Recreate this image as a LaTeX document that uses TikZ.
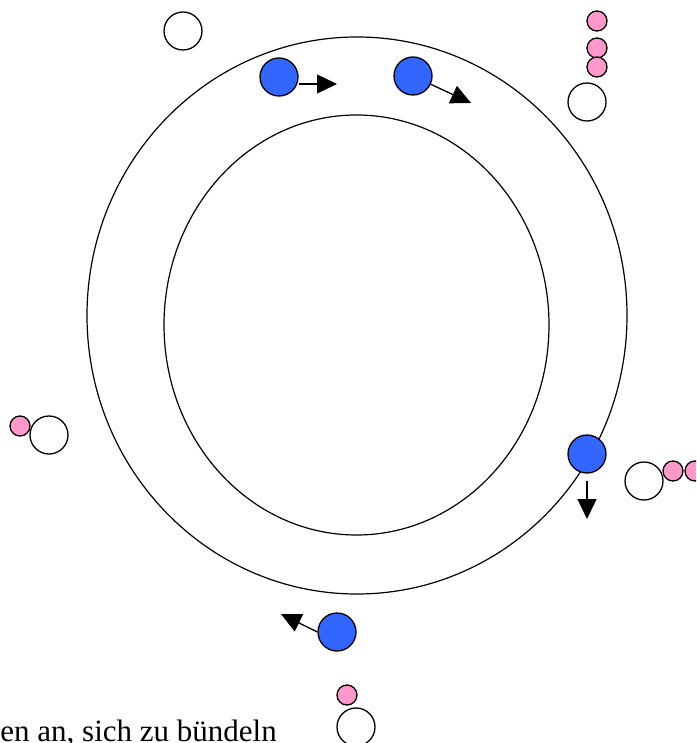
\documentclass[tikz,border=0pt]{standalone}
\usepackage{fontspec}
\setmainfont{Liberation Serif}
\usetikzlibrary{arrows.meta}
\begin{document}
\begin{tikzpicture}[x=1pt,y=-1pt,
  ring/.style={draw=black,line width=1.2pt},
  free/.style={circle,draw=black,line width=1.3pt,fill=white,minimum size=38pt,inner sep=0pt},
  carrier/.style={circle,draw=black,line width=1.3pt,fill=carrierblue,minimum size=38pt,inner sep=0pt},
  ion/.style={circle,draw=black,line width=1.3pt,fill=ionpink,minimum size=20pt,inner sep=0pt},
  move/.style={line width=1.3pt,-{Triangle[length=20pt,width=19pt]}}]
\definecolor{carrierblue}{RGB}{51,102,255}
\definecolor{ionpink}{RGB}{255,153,204}
\useasboundingbox (0,0) rectangle (696,743);
\clip (0,0) rectangle (696,743);
% rings
\draw[ring] (357,315.5) ellipse [x radius=270, y radius=278.5];
\draw[ring] (356.5,325) ellipse [x radius=192.5, y radius=210];
% top left free
\node[free] (f1) at (183,31) {};
% top carriers
\node[carrier] (c1) at (279,77) {};
\coordinate (t1) at (337,84);
\draw[move] (c1.east |- t1) -- (t1);
\node[carrier] (c2) at (413,76) {};
\coordinate (t2) at (471,103);
\draw[move] (c2.-25) -- (t2);
% top right stack
\node[ion] (p1) at (597,21) {};
\node[ion] (p2) at (597,48) {};
\node[ion] (p3) at (597,67) {};
\node[free] (f2) at (587,102) {};
% right
\node[carrier] (c3) at (587,454) {};
\coordinate (s3) at (587,481);
\coordinate (t3) at (587,519);
\draw[move] (s3) -- (t3);
\node[free] (f3) at (644,481) {};
\node[ion] (p4) at (673,471) {};
\node[ion] (p5) at (695,471) {};
% left
\node[ion] (p6) at (20,426) {};
\node[free] (f4) at (49,435) {};
% bottom carrier
\node[carrier] (c4) at (337,632) {};
\coordinate (t4) at (281,614);
\draw[move] (c4.west) -- (t4);
% bottom free
\node[ion] (p7) at (347,695) {};
\node[free] (f5) at (356,727) {};
% text
\node[anchor=base east,inner sep=0pt,font=\fontsize{31}{37}\selectfont] (txt) at (277,741) {en an, sich zu bündeln};
\end{tikzpicture}
\end{document}
